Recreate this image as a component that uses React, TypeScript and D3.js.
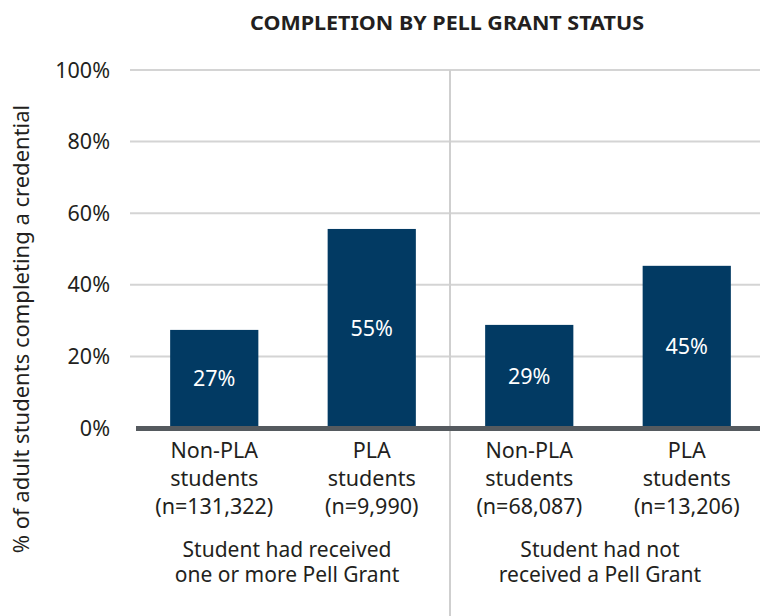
import React from "react";
import * as d3 from "d3";

const categories = ["g1-nonpla", "g1-pla", "g2-nonpla", "g2-pla"];
const catLines: string[][] = [
  ["Non-PLA", "students", "(n=131,322)"],
  ["PLA", "students", "(n=9,990)"],
  ["Non-PLA", "students", "(n=68,087)"],
  ["PLA", "students", "(n=13,206)"],
];
const values = [27.4, 55.6, 28.8, 45.3];
const valueLabels = ["27%", "55%", "29%", "45%"];
const groupLabels: string[][] = [
  ["Student had received", "one or more Pell Grant"],
  ["Student had not", "received a Pell Grant"],
];
const yTicks = [0, 20, 40, 60, 80, 100];
const title = "COMPLETION BY PELL GRANT STATUS";
const yTitle = "% of adult students completing a credential";

const W = 760;
const H = 616;
const FONT = "'Noto Sans', 'Open Sans', sans-serif";
const TEXT = "#231f20";
const BAR = "#023a63";
const FS = 21.5;

export default function App() {
  const y = d3.scaleLinear().domain([0, 100]).range([428, 70]);
  const x = d3
    .scaleBand<string>()
    .domain(categories)
    .range([135.5, 765.5])
    .paddingInner(0.44)
    .paddingOuter(0.22);
  const gridX0 = 130;
  const dividerX = 450;
  const groupCenters = [287, 600];

  return (
    <svg
      width={W}
      height={H}
      style={{ position: "absolute", left: 0, top: 0, background: "#fff" }}
      fontFamily={FONT}
    >
      <text
        x={447}
        y={29.5}
        textAnchor="middle"
        fontSize={19.5}
        fontWeight={700}
        fill={TEXT}
        textLength={394}
        lengthAdjust="spacingAndGlyphs"
      >
        {title}
      </text>

      {yTicks.map((t) => (
        <g key={t}>
          {t > 0 && (
            <line x1={gridX0} x2={W} y1={y(t)} y2={y(t)} stroke="#d4d4d4" strokeWidth={2} />
          )}
          <text
            x={110}
            y={y(t)}
            dy="0.35em"
            textAnchor="end"
            fontSize={FS}
            fill={TEXT}
          >
            {t}%
          </text>
        </g>
      ))}

      <line x1={dividerX} x2={dividerX} y1={y(100)} y2={H} stroke="#cfcfcf" strokeWidth={2} />

      {categories.map((c, i) => {
        const bx = x(c) as number;
        const top = y(values[i]);
        return (
          <g key={c}>
            <rect x={bx} y={top} width={x.bandwidth()} height={y(0) - top} fill={BAR} />
            <text
              x={bx + x.bandwidth() / 2}
              y={(top + y(0)) / 2}
              dy="0.35em"
              textAnchor="middle"
              fontSize={FS}
              fill="#ffffff"
            >
              {valueLabels[i]}
            </text>
            {catLines[i].map((line, j) => (
              <text
                key={j}
                x={bx + x.bandwidth() / 2}
                y={458 + j * 28}
                textAnchor="middle"
                fontSize={FS}
                fill={TEXT}
              >
                {line}
              </text>
            ))}
          </g>
        );
      })}

      <line x1={136} x2={W} y1={y(0) + 0.5} y2={y(0) + 0.5} stroke="#555a5f" strokeWidth={5} />

      {groupLabels.map((lines, g) =>
        lines.map((line, j) => (
          <text
            key={`${g}-${j}`}
            x={groupCenters[g]}
            y={556.5 + j * 25.5}
            textAnchor="middle"
            fontSize={21}
            fill={TEXT}
          >
            {line}
          </text>
        ))
      )}

      <text
        transform={`translate(29, 329) rotate(-90)`}
        textAnchor="middle"
        fontSize={22}
        fill={TEXT}
      >
        {yTitle}
      </text>
    </svg>
  );
}
